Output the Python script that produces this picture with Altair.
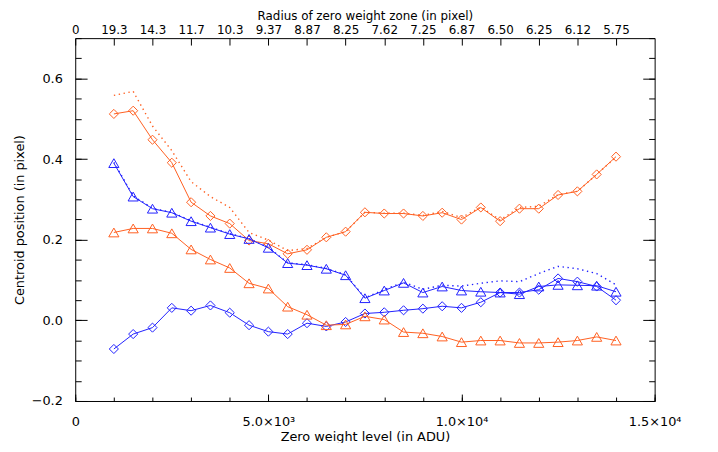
import altair as alt
import pandas as pd

# ---------------- data ----------------
zero_weight_level = [1000, 1500, 2000, 2500, 3000, 3500, 4000, 4500, 5000, 5500,
                     6000, 6500, 7000, 7500, 8000, 8500, 9000, 9500, 10000, 10500,
                     11000, 11500, 12000, 12500, 13000, 13500, 14000]

orange_diamond = [0.512, 0.520, 0.448, 0.391, 0.293, 0.259, 0.240, 0.198, 0.190, 0.165,
                  0.175, 0.206, 0.220, 0.268, 0.265, 0.265, 0.259, 0.267, 0.250, 0.280,
                  0.246, 0.277, 0.277, 0.311, 0.320, 0.362, 0.406]
orange_dotted = [0.558, 0.568, 0.482, 0.421, 0.344, 0.307, 0.280, 0.218, 0.199, 0.173,
                 0.178, 0.206, 0.220, 0.268, 0.266, 0.266, 0.260, 0.270, 0.255, 0.281,
                 0.249, 0.280, 0.283, 0.312, 0.320, 0.362, 0.405]
blue_triangle = [0.390, 0.307, 0.277, 0.267, 0.246, 0.230, 0.214, 0.202, 0.180, 0.142,
                 0.137, 0.128, 0.112, 0.055, 0.074, 0.093, 0.069, 0.084, 0.074, 0.071,
                 0.069, 0.065, 0.084, 0.088, 0.087, 0.086, 0.071]
blue_dotted = [0.392, 0.309, 0.278, 0.268, 0.247, 0.231, 0.215, 0.203, 0.181, 0.143,
               0.138, 0.129, 0.113, 0.056, 0.076, 0.095, 0.077, 0.087, 0.085, 0.092,
               0.098, 0.096, 0.116, 0.134, 0.128, 0.116, 0.088]
orange_triangle = [0.218, 0.228, 0.228, 0.216, 0.176, 0.151, 0.130, 0.092, 0.079, 0.034,
                   0.014, -0.012, -0.010, 0.010, 0.002, -0.029, -0.032, -0.040, -0.054, -0.050,
                   -0.050, -0.056, -0.056, -0.054, -0.050, -0.041, -0.050]
blue_diamond = [-0.071, -0.034, -0.018, 0.031, 0.024, 0.037, 0.019, -0.012, -0.028, -0.034,
                -0.007, -0.015, -0.004, 0.017, 0.020, 0.025, 0.029, 0.035, 0.031, 0.045,
                0.069, 0.069, 0.076, 0.104, 0.096, 0.084, 0.050]

# axis ticks / labels
top_tick_values = [0, 1000, 2000, 3000, 4000, 5000, 6000, 7000, 8000, 9000,
                   10000, 11000, 12000, 13000, 14000]
top_tick_labels = ["0", "19.3", "14.3", "11.7", "10.3", "9.37", "8.87", "8.25",
                   "7.62", "7.25", "6.87", "6.50", "6.25", "6.12", "5.75"]
bottom_major_values = [0, 5000, 10000, 15000]
bottom_major_labels = ["0", "5.0×10³", "1.0×10⁴", "1.5×10⁴"]
bottom_minor_values = [0, 1000, 2000, 3000, 4000, 5000, 6000, 7000, 8000, 9000,
                       10000, 11000, 12000, 13000, 14000, 15000]
y_major_values = [-0.2, 0.0, 0.2, 0.4, 0.6]
y_minor_values = [-0.2, -0.15, -0.1, -0.05, 0.0, 0.05, 0.1, 0.15, 0.2, 0.25, 0.3,
                  0.35, 0.4, 0.45, 0.5, 0.55, 0.6, 0.65, 0.7]

ORANGE = "#ff5f20"
BLUE = "#2020ff"
W, H = 586, 367
FONT = "DejaVu Sans"

df = pd.DataFrame({
    "x": zero_weight_level,
    "od": orange_diamond,
    "odot": orange_dotted,
    "bt": blue_triangle,
    "bdot": blue_dotted,
    "ot": orange_triangle,
    "bd": blue_diamond,
})

xs = alt.Scale(domain=[0, 15000], nice=False, zero=False)
ys = alt.Scale(domain=[-0.2, 0.7], nice=False, zero=False)


def js_list(items):
    return "[" + ",".join('"' + s + '"' for s in items) + "]"


def dotted(col, color):
    return alt.Chart(df).mark_line(color=color, strokeWidth=1.4, strokeDash=[1.4, 3.6],
                                   strokeCap="butt").encode(
        x=alt.X("x:Q", scale=xs, axis=None),
        y=alt.Y(col + ":Q", scale=ys, axis=None))


def marked(col, color, shape, size):
    return alt.Chart(df).mark_line(
        color=color, strokeWidth=1,
        point=alt.OverlayMarkDef(shape=shape, filled=False, size=size, color=color,
                                 strokeWidth=1, opacity=1)).encode(
        x=alt.X("x:Q", scale=xs, axis=None),
        y=alt.Y(col + ":Q", scale=ys, axis=None))


def axis_layer(xaxis, yaxis):
    return alt.Chart(df).mark_point(opacity=0).encode(
        x=alt.X("x:Q", scale=xs, axis=xaxis),
        y=alt.Y("od:Q", scale=ys, axis=yaxis))


def style(label_size=13, title_size=13):
    return dict(grid=False, labelFont=FONT, labelFontSize=label_size, labelColor="black",
                titleFont=FONT, titleFontSize=title_size, titleFontWeight="normal",
                titleColor="black", domainColor="black", tickColor="black",
                domainWidth=1, tickWidth=1)


common = style()

# x axes
x_bottom_labels = alt.Axis(orient="bottom", values=bottom_major_values,
                           labelExpr=js_list(bottom_major_labels) + "[round(datum.value/5000)]",
                           ticks=False, tickSize=0, domain=True, labelPadding=15,
                           labelFlush=False, labelOverlap=False,
                           title="Zero weight level (in ADU)", titlePadding=2, **common)
x_bottom_minor = alt.Axis(orient="top", offset=-H, values=bottom_minor_values, labels=False,
                          domain=False, tickSize=4, title=None, **common)
x_bottom_major = alt.Axis(orient="top", offset=-H, values=bottom_major_values, labels=False,
                          domain=False, tickSize=7, title=None, **common)
x_top_labels = alt.Axis(orient="top", values=top_tick_values,
                        labelExpr=js_list(top_tick_labels) + "[round(datum.value/1000)]",
                        ticks=False, tickSize=0, domain=True, labelPadding=2,
                        labelFlush=False, labelOverlap=False,
                        title="Radius of zero weight zone (in pixel)",
                        titleY=-19, titleBaseline="alphabetic", **style(12, 12))
x_top_ticks = alt.Axis(orient="bottom", offset=-H, values=top_tick_values, labels=False,
                       domain=False, tickSize=7, title=None, **common)

# y axes
y_left_labels = alt.Axis(orient="left", values=y_major_values, format=".1f",
                         ticks=False, tickSize=0, domain=True, labelPadding=13,
                         labelFlush=False, labelOverlap=False,
                         title="Centroid position (in pixel)", titlePadding=5, **common)
y_left_minor = alt.Axis(orient="right", offset=-W, values=y_minor_values, labels=False,
                        domain=False, tickSize=6, title=None, **common)
y_left_major = alt.Axis(orient="right", offset=-W, values=y_major_values, labels=False,
                        domain=False, tickSize=12, title=None, **common)
y_right_minor = alt.Axis(orient="left", offset=-W, values=y_minor_values, labels=False,
                         domain=True, tickSize=6, title=None, **common)
y_right_major = alt.Axis(orient="left", offset=-W, values=y_major_values, labels=False,
                         domain=False, tickSize=12, title=None, **common)

layers = [
    axis_layer(x_bottom_labels, y_left_labels),
    axis_layer(x_bottom_minor, y_left_minor),
    axis_layer(x_bottom_major, y_left_major),
    axis_layer(x_top_labels, y_right_minor),
    axis_layer(x_top_ticks, y_right_major),
    dotted("odot", ORANGE),
    dotted("bdot", BLUE),
    marked("od", ORANGE, "diamond", 85),
    marked("bd", BLUE, "diamond", 85),
    marked("ot", ORANGE, "triangle-up", 105),
    marked("bt", BLUE, "triangle-up", 105),
]

chart = alt.layer(*layers).resolve_axis(x="independent", y="independent").properties(
    width=W, height=H,
    autosize=alt.AutoSizeParams(type="none"),
    padding={"left": 68, "top": 28, "right": 56, "bottom": 40},
    background="white",
).configure_view(stroke=None)

chart.save("out.html", embed_options={"renderer": "svg", "actions": False})
